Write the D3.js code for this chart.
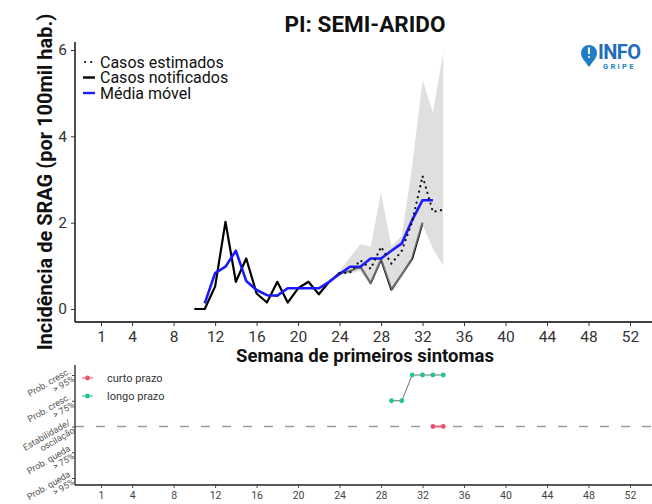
<!DOCTYPE html>
<html><head><meta charset="utf-8">
<script src="https://cdn.jsdelivr.net/npm/d3@7"></script>
<style>body{margin:0;background:#fff}svg{display:block;font-family:Roboto,"Noto Sans",sans-serif}</style>
</head><body><svg id="c" width="652" height="504"></svg>
<script>
// ---- data ----
const xTicks = [1,4,8,12,16,20,24,28,32,36,40,44,48,52];
const yTicks = [0,2,4,6];
const notifWeeks = [10,11,12,13,14,15,16,17,18,19,20,21,22,23,24,25,26,27,28,29,30,31,32];
const notifValues = [0,0,0.52,2.02,0.63,1.17,0.36,0.15,0.63,0.15,0.48,0.63,0.34,0.63,0.83,0.88,0.98,0.6,1.15,0.45,0.8,1.17,2.0];
const mediaWeeks = [11,12,13,14,15,16,17,18,19,20,21,22,23,24,25,26,27,28,29,30,31,32,33];
const mediaValues = [0.13,0.83,0.98,1.35,0.65,0.44,0.32,0.31,0.48,0.48,0.48,0.48,0.63,0.81,0.98,0.98,1.17,1.17,1.35,1.52,2.06,2.52,2.52];
const estWeeks = [24,25,26,27,28,29,30,31,32,33,34];
const estValues = [0.83,0.84,1.13,0.93,1.44,1.05,1.35,2.02,3.08,2.25,2.3];
const estLower = [0.8,0.82,0.88,0.55,1.1,0.42,0.75,1.15,1.95,1.4,1.0];
const estUpper = [0.88,1.2,1.5,1.45,2.7,1.45,1.7,3.3,5.3,4.55,5.95];
const trendLevels = ["Prob. queda\n> 95%","Prob. queda\n> 75%","Estabilidade/\noscilação","Prob. cresc.\n> 75%","Prob. cresc.\n> 95%"];
const curtoWeeks = [33,34];
const curtoLevel = [2,2];
const longoWeeks = [29,30,31,32,33,34];
const longoLevel = [3,3,4,4,4,4];

const svg = d3.select("#c");
const x = d3.scaleLinear().domain([1,52]).range([101,630]);
const y = d3.scaleLinear().domain([0,6]).range([309,50]);
const yb = d3.scalePoint().domain(trendLevels).range([478,375]);

// ---- title ----
svg.append("text").attr("x",365).attr("y",32).attr("text-anchor","middle")
  .attr("font-size",22.5).attr("font-weight","bold").attr("fill","#111").text("PI: SEMI-ARIDO");

// ---- main panel ----
const g = svg.append("g");
const line = d3.line().x(d=>x(d[0])).y(d=>y(d[1]));
g.append("path").datum(notifWeeks.map((w,i)=>[w,notifValues[i]]))
  .attr("d",line).attr("fill","none").attr("stroke","#000").attr("stroke-width",2.2).attr("stroke-linejoin","round");
const area = d3.area().x(d=>x(d[0])).y0(d=>y(d[1])).y1(d=>y(d[2]));
g.append("path").datum(estWeeks.map((w,i)=>[w,estLower[i],estUpper[i]]))
  .attr("d",area).attr("fill","#c4c4c4").attr("opacity",0.55);
g.append("path").datum(mediaWeeks.map((w,i)=>[w,mediaValues[i]]))
  .attr("d",line).attr("fill","none").attr("stroke","#1a1aff").attr("stroke-width",2.6).attr("stroke-linejoin","round");
g.append("path").datum(estWeeks.map((w,i)=>[w,estValues[i]]))
  .attr("d",line).attr("fill","none").attr("stroke","#111").attr("stroke-width",2.2)
  .attr("stroke-dasharray","0.1 5.5").attr("stroke-linecap","round");

// axes main
const xAxis = d3.axisBottom(x).tickValues(xTicks).tickSize(4).tickPadding(5);
const ax = svg.append("g").attr("transform","translate(0,322)").call(xAxis);
ax.select(".domain").attr("d","M75,0H652");
const yAxis = d3.axisLeft(y).tickValues(yTicks).tickFormat(d3.format("d")).tickSize(4).tickPadding(4);
const ay = svg.append("g").attr("transform","translate(75,0)").call(yAxis);
ay.select(".domain").attr("d","M0,42V322");
[ax,ay].forEach(a=>{
  a.selectAll(".domain").attr("stroke","#000").attr("stroke-width",1.4);
  a.selectAll(".tick line").attr("stroke","#333").attr("stroke-width",1);
  a.selectAll(".tick text").attr("font-size",15.5).attr("fill","#333").attr("font-family","Roboto");
});

svg.append("text").attr("x",365).attr("y",362).attr("text-anchor","middle")
  .attr("font-size",18.5).attr("font-weight","bold").attr("fill","#111").text("Semana de primeiros sintomas");
svg.append("text").attr("transform","translate(52,182) rotate(-90)").attr("text-anchor","middle")
  .attr("font-size",20).attr("font-weight","bold").attr("fill","#111").text("Incidência de SRAG (por 100mil hab.)");

// main legend
const lg = svg.append("g");
const legItems = [{t:"Casos estimados",k:"dot"},{t:"Casos notificados",k:"black"},{t:"Média móvel",k:"blue"}];
legItems.forEach((d,i)=>{
  const yy = 62 + i*15.5;
  if(d.k==="dot") lg.append("line").attr("x1",85).attr("x2",93).attr("y1",yy).attr("y2",yy)
     .attr("stroke","#111").attr("stroke-width",2.2).attr("stroke-dasharray","0.1 6").attr("stroke-linecap","round");
  else lg.append("line").attr("x1",83).attr("x2",95).attr("y1",yy).attr("y2",yy)
     .attr("stroke",d.k==="black"?"#000":"#1a1aff").attr("stroke-width",2.4);
  lg.append("text").attr("x",100).attr("y",yy+5.5).attr("font-size",16).attr("fill","#111").text(d.t);
});

// logo
const logo = svg.append("g");
logo.append("path").attr("d","M589,67 C585,61 581,58 581,53 A8,8 0 1 1 597,53 C597,58 593,61 589,67 Z").attr("fill","#1e7fc4");
logo.append("rect").attr("x",588).attr("y",47.5).attr("width",2).attr("height",6.5).attr("fill","#fff");
logo.append("circle").attr("cx",589).attr("cy",57).attr("r",1.1).attr("fill","#fff");
logo.append("text").attr("x",598).attr("y",59).attr("font-size",20).attr("font-weight","bold").attr("fill","#1e6fb8").attr("letter-spacing",-0.6).text("INFO");
logo.append("text").attr("x",603).attr("y",68.5).attr("font-size",7.5).attr("font-weight","bold").attr("fill","#1e7fc4").attr("letter-spacing",2.3).text("GRIPE");

// ---- bottom panel ----
const bg = svg.append("g");
bg.append("line").attr("x1",75).attr("x2",652).attr("y1",yb(trendLevels[2])).attr("y2",yb(trendLevels[2]))
  .attr("stroke","#9a9a9a").attr("stroke-width",1.4).attr("stroke-dasharray","9 12");
const lineB = d3.line().x(d=>x(d[0])).y(d=>yb(trendLevels[d[1]]));
bg.append("path").datum(longoWeeks.map((w,i)=>[w,longoLevel[i]])).attr("d",lineB)
  .attr("fill","none").attr("stroke","#333").attr("stroke-width",0.7);
bg.append("path").datum(curtoWeeks.map((w,i)=>[w,curtoLevel[i]])).attr("d",lineB)
  .attr("fill","none").attr("stroke","#f0506e").attr("stroke-width",1.5);
bg.selectAll("circle.l").data(longoWeeks.map((w,i)=>[w,longoLevel[i]])).join("circle")
  .attr("cx",d=>x(d[0])).attr("cy",d=>yb(trendLevels[d[1]])).attr("r",2.4).attr("fill","#1fc88a");
bg.selectAll("circle.c").data(curtoWeeks.map((w,i)=>[w,curtoLevel[i]])).join("circle")
  .attr("cx",d=>x(d[0])).attr("cy",d=>yb(trendLevels[d[1]])).attr("r",2.4).attr("fill","#f0506e");

const bx = svg.append("g").attr("transform","translate(0,485)").call(d3.axisBottom(x).tickValues(xTicks).tickSize(3).tickPadding(4));
bx.select(".domain").attr("d","M75,0H652");
const byA = svg.append("g").attr("transform","translate(75,0)").call(d3.axisLeft(yb).tickSize(3).tickFormat(""));
byA.select(".domain").attr("d","M0,365V485");
[bx,byA].forEach(a=>{
  a.selectAll(".domain").attr("stroke","#222").attr("stroke-width",1.3);
  a.selectAll(".tick line").attr("stroke","#444");
  a.selectAll(".tick text").attr("font-size",10.5).attr("fill","#444").attr("font-family","Roboto");
});
// rotated level labels
trendLevels.forEach(lv=>{
  const parts = lv.split("\n");
  const t = svg.append("text").attr("transform",`translate(71,${yb(lv)-2}) rotate(-30)`)
    .attr("text-anchor","end").attr("font-size",9).attr("fill","#555");
  t.append("tspan").attr("x",0).attr("dy",0).text(parts[0]);
  t.append("tspan").attr("x",0).attr("dy",9).text(parts[1]);
});
// bottom legend
const bl = svg.append("g");
[["curto prazo","#f0506e",378],["longo prazo","#1fc88a",396]].forEach(d=>{
  bl.append("line").attr("x1",82).attr("x2",93).attr("y1",d[2]).attr("y2",d[2]).attr("stroke",d[1]).attr("stroke-width",1);
  bl.append("circle").attr("cx",87.5).attr("cy",d[2]).attr("r",2.4).attr("fill",d[1]);
  bl.append("text").attr("x",107).attr("y",d[2]+4).attr("font-size",11).attr("fill","#333").text(d[0]);
});
</script></body></html>
